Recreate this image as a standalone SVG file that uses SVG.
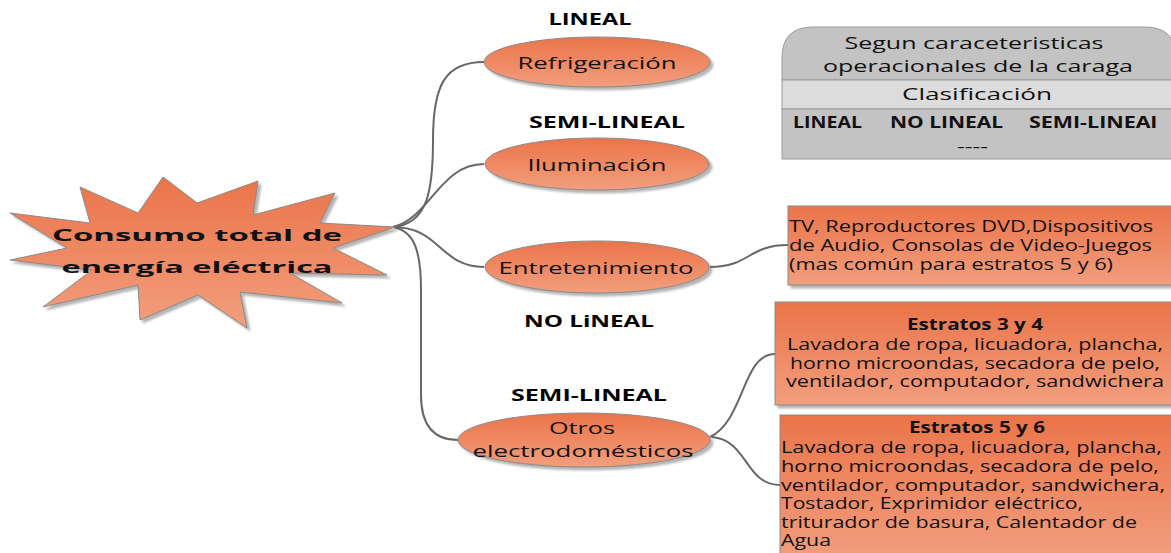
<svg xmlns="http://www.w3.org/2000/svg" width="1171" height="553" viewBox="0 0 1171 553">
  <defs>
    <linearGradient id="orange" x1="0" y1="0" x2="0" y2="1">
      <stop offset="0" stop-color="#EB7449"/>
      <stop offset="1" stop-color="#F29E7D"/>
    </linearGradient>
    <filter id="shadow" x="-10%" y="-10%" width="125%" height="130%">
      <feDropShadow dx="3" dy="3" stdDeviation="1.2" flood-color="#7a7a7a" flood-opacity="0.55"/>
    </filter>
    <style>
      .shape { fill: url(#orange); stroke: #8a8a8a; stroke-width: 1; filter: url(#shadow); }
      .link { fill: none; stroke: #676767; stroke-width: 2; }
      .t { font-family: "Open Sans", "Liberation Sans", sans-serif; font-size: 16px; fill: #111; }
      .mid { text-anchor: middle; }
      .b { font-weight: 700; }
      .lbl { font-family: "Open Sans", "Liberation Sans", sans-serif; font-size: 16px; font-weight: 700; fill: #000; }
      .gray1 { fill: #C3C3C3; stroke: #9a9a9a; stroke-width: 1; }
      .gray2 { fill: #DCDCDC; stroke: #9a9a9a; stroke-width: 1; }
    </style>
  </defs>

  <!-- branch connectors -->
  <g id="connectors">
    <path class="link" d="M393,227 C428,224 433,190 433,140 C433,85 445,62 484,62"/>
    <path class="link" d="M393,227 C430,218 440,164 484,164"/>
    <path class="link" d="M393,227 C440,227 440,267 484,267"/>
    <path class="link" d="M393,227 C414,231 421,250 421,290 L421,395 C421,428 436,440 458,440"/>
    <path class="link" d="M710,267 C750,267 748,245 788,245"/>
    <path class="link" d="M710,437 C745,420 742,354 775,354"/>
    <path class="link" d="M712,437 C748,440 745,485 780,485"/>
  </g>

  <!-- central starburst -->
  <g id="node-consumo">
    <polygon class="shape" points="163,177 197,203 258,181 253,215 335,193 320,223 395,227 333,248 387,275 290,273 342,303 240,292 247,328 198,295 140,320 138,285 43,307 92,270 10,260 67,248 10,213 90,223 80,187 138,213"/>
    <text class="t b mid" x="197" y="241" font-size="24" textLength="290" lengthAdjust="spacingAndGlyphs">Consumo total de</text>
    <text class="t b mid" x="197" y="273" font-size="24" textLength="271" lengthAdjust="spacingAndGlyphs">energía eléctrica</text>
  </g>

  <!-- category labels -->
  <g id="labels">
    <text class="lbl mid" x="590" y="25" textLength="83" lengthAdjust="spacingAndGlyphs">LINEAL</text>
    <text class="lbl mid" x="607" y="128" textLength="156" lengthAdjust="spacingAndGlyphs">SEMI-LINEAL</text>
    <text class="lbl mid" x="589" y="327" textLength="130" lengthAdjust="spacingAndGlyphs">NO LiNEAL</text>
    <text class="lbl mid" x="589" y="401" textLength="156" lengthAdjust="spacingAndGlyphs">SEMI-LINEAL</text>
  </g>

  <g id="node-refrigeracion">
    <ellipse class="shape" cx="597" cy="62" rx="113" ry="25"/>
    <text class="t mid" x="597" y="69" font-size="18" textLength="159" lengthAdjust="spacingAndGlyphs">Refrigeración</text>
  </g>

  <g id="node-iluminacion">
    <ellipse class="shape" cx="597" cy="164" rx="112" ry="26"/>
    <text class="t mid" x="597" y="171" font-size="18" textLength="139" lengthAdjust="spacingAndGlyphs">Iluminación</text>
  </g>

  <g id="node-entretenimiento">
    <ellipse class="shape" cx="597" cy="267" rx="112" ry="26"/>
    <text class="t mid" x="596" y="274" font-size="18" textLength="195" lengthAdjust="spacingAndGlyphs">Entretenimiento</text>
  </g>

  <g id="node-otros">
    <ellipse class="shape" cx="584" cy="440" rx="126" ry="27"/>
    <text class="t mid" x="582" y="434" font-size="18" textLength="66" lengthAdjust="spacingAndGlyphs">Otros</text>
    <text class="t mid" x="583" y="457" font-size="18" textLength="221" lengthAdjust="spacingAndGlyphs">electrodomésticos</text>
  </g>

  <!-- classification table -->
  <g id="node-clasificacion">
    <path class="gray1" d="M782,80 L782,58 Q782,27 813,27 L1145,27 Q1176,27 1176,58 L1176,80 Z"/>
    <rect class="gray2" x="782" y="80" width="394" height="29"/>
    <rect class="gray1" x="782" y="109" width="394" height="50"/>
    <text class="t mid" x="974" y="49" font-size="18" textLength="259" lengthAdjust="spacingAndGlyphs">Segun caraceteristicas</text>
    <text class="t mid" x="978" y="72" font-size="18" textLength="310" lengthAdjust="spacingAndGlyphs">operacionales de la caraga</text>
    <text class="t mid" x="977" y="100" font-size="18" textLength="150" lengthAdjust="spacingAndGlyphs">Clasificación</text>
    <text class="t b" x="793" y="128" font-size="14" textLength="69" lengthAdjust="spacingAndGlyphs">LINEAL</text>
    <text class="t b" x="890" y="128" font-size="14" textLength="113" lengthAdjust="spacingAndGlyphs">NO LINEAL</text>
    <text class="t b" x="1029" y="128" font-size="14" textLength="128" lengthAdjust="spacingAndGlyphs">SEMI-LINEAl</text>
    <text class="t" x="957" y="152" font-size="14" textLength="31" lengthAdjust="spacingAndGlyphs">----</text>
  </g>

  <g id="node-entretenimiento-detalle">
    <rect class="shape" x="788" y="206" width="390" height="79"/>
    <text class="t" x="789" y="232" textLength="364" lengthAdjust="spacingAndGlyphs">TV, Reproductores DVD,Dispositivos</text>
    <text class="t" x="789" y="251" textLength="363" lengthAdjust="spacingAndGlyphs">de Audio, Consolas de Video-Juegos</text>
    <text class="t" x="789" y="270" textLength="324" lengthAdjust="spacingAndGlyphs">(mas común para estratos 5 y 6)</text>
  </g>

  <g id="node-estratos-3-4">
    <rect class="shape" x="775" y="302" width="403" height="103"/>
    <text class="t b mid" x="975" y="330" font-size="15" textLength="136" lengthAdjust="spacingAndGlyphs">Estratos 3 y 4</text>
    <text class="t mid" x="975" y="350" textLength="376" lengthAdjust="spacingAndGlyphs">Lavadora de ropa, licuadora, plancha,</text>
    <text class="t mid" x="975" y="369" textLength="370" lengthAdjust="spacingAndGlyphs">horno microondas, secadora de pelo,</text>
    <text class="t mid" x="975" y="387" textLength="378" lengthAdjust="spacingAndGlyphs">ventilador, computador, sandwichera</text>
  </g>

  <g id="node-estratos-5-6">
    <rect class="shape" x="780" y="415" width="398" height="145"/>
    <text class="t b mid" x="977" y="433" font-size="15" textLength="136" lengthAdjust="spacingAndGlyphs">Estratos 5 y 6</text>
    <text class="t" x="781" y="453" textLength="381" lengthAdjust="spacingAndGlyphs">Lavadora de ropa, licuadora, plancha,</text>
    <text class="t" x="781" y="472" textLength="378" lengthAdjust="spacingAndGlyphs">horno microondas, secadora de pelo,</text>
    <text class="t" x="781" y="491" textLength="384" lengthAdjust="spacingAndGlyphs">ventilador, computador, sandwichera,</text>
    <text class="t" x="781" y="509" textLength="302" lengthAdjust="spacingAndGlyphs">Tostador, Exprimidor eléctrico,</text>
    <text class="t" x="781" y="528" textLength="356" lengthAdjust="spacingAndGlyphs">triturador de basura, Calentador de</text>
    <text class="t" x="781" y="546" textLength="50" lengthAdjust="spacingAndGlyphs">Agua</text>
  </g>
</svg>
